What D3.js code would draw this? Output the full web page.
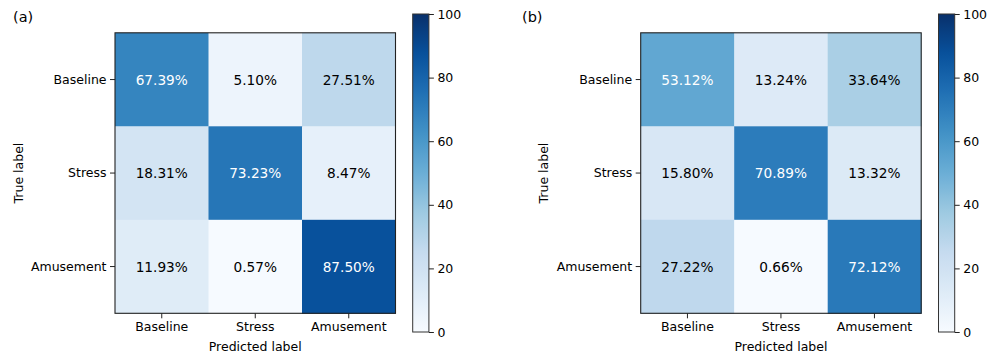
<!DOCTYPE html>
<html>
<head>
<meta charset="utf-8">
<script src="https://cdn.jsdelivr.net/npm/d3@7"></script>
<style>
  html, body { margin: 0; padding: 0; background: #fff; }
  svg { display: block; }
  text { font-family: "DejaVu Sans", sans-serif; }
</style>
</head>
<body>
<svg id="chart" width="988" height="354"></svg>
<script>
// Class names shared by both confusion matrices
const classes = ["Baseline", "Stress", "Amusement"];

// Row-normalised confusion matrices (%), rows = true label, cols = predicted
const matrixA = [
  [67.39, 5.10, 27.51],
  [18.31, 73.23, 8.47],
  [11.93, 0.57, 87.50]
];
const matrixB = [
  [53.12, 13.24, 33.64],
  [15.80, 70.89, 13.32],
  [27.22, 0.66, 72.12]
];

const panelLabels = ["(a)", "(b)"];
const colorbarTicks = [0, 20, 40, 60, 80, 100];

// ColorBrewer "Blues" stops, linearly interpolated in RGB
const bluesStops = ["#f7fbff", "#deebf7", "#c6dbef", "#9ecae1", "#6baed6",
                    "#4292c6", "#2171b5", "#08519c", "#08306b"];
const color = d3.scaleLinear()
  .domain(bluesStops.map((_, i) => 100 * i / (bluesStops.length - 1)))
  .range(bluesStops)
  .interpolate(d3.interpolateRgb)
  .clamp(true);

const svg = d3.select("#chart");

const panels = [
  { data: matrixA, label: panelLabels[0], left: 115, labelX: 13, ylabX: 18.5, cbX: 412.7 },
  { data: matrixB, label: panelLabels[1], left: 640.7, labelX: 522, ylabX: 543.5, cbX: 938.5 }
];

const gridTop = 32.8, gridSize = 280.5;
const cbTop = 14, cbBottom = 332, cbW = 16.2;

// Gradient for colorbars
const defs = svg.append("defs");
const grad = defs.append("linearGradient")
  .attr("id", "bluesGrad")
  .attr("x1", 0).attr("y1", 1).attr("x2", 0).attr("y2", 0);
d3.range(0, 101, 2).forEach(v => {
  grad.append("stop").attr("offset", (v / 100)).attr("stop-color", color(v));
});

panels.forEach(p => {
  const g = svg.append("g");

  const x = d3.scaleBand().domain(classes).range([p.left, p.left + gridSize]);
  const y = d3.scaleBand().domain(classes).range([gridTop, gridTop + gridSize]);

  // cells
  const cells = [];
  p.data.forEach((row, i) => row.forEach((v, j) => cells.push({ r: classes[i], c: classes[j], v })));

  g.selectAll("rect.cell").data(cells).enter().append("rect")
    .attr("class", "cell")
    .attr("x", d => x(d.c))
    .attr("y", d => y(d.r))
    .attr("width", x.bandwidth() + 0.5)
    .attr("height", y.bandwidth() + 0.5)
    .attr("fill", d => color(d.v));

  g.selectAll("text.val").data(cells).enter().append("text")
    .attr("class", "val")
    .attr("x", d => x(d.c) + x.bandwidth() / 2)
    .attr("y", d => y(d.r) + y.bandwidth() / 2)
    .attr("text-anchor", "middle")
    .attr("dominant-baseline", "central")
    .attr("font-size", 13.7)
    .attr("fill", d => d.v > 50 ? "#ffffff" : "#000000")
    .text(d => d.v.toFixed(2) + "%");

  // frame
  g.append("rect")
    .attr("x", p.left).attr("y", gridTop)
    .attr("width", gridSize).attr("height", gridSize)
    .attr("fill", "none").attr("stroke", "#222").attr("stroke-width", 1.1);

  // axes
  const xAxis = g.append("g")
    .attr("transform", `translate(0,${gridTop + gridSize})`)
    .call(d3.axisBottom(x).tickSize(5).tickPadding(4));
  const yAxis = g.append("g")
    .attr("transform", `translate(${p.left},0)`)
    .call(d3.axisLeft(y).tickSize(5).tickPadding(3.5));
  [xAxis, yAxis].forEach(a => {
    a.select(".domain").remove();
    a.selectAll("line").attr("stroke", "#222");
    a.selectAll("text").attr("font-size", 12.5).attr("fill", "#000")
      .style("font-family", "DejaVu Sans, sans-serif");
  });

  // axis titles
  g.append("text")
    .attr("x", p.left + gridSize / 2).attr("y", 346)
    .attr("text-anchor", "middle").attr("dominant-baseline", "central")
    .attr("font-size", 12.5).text("Predicted label");
  g.append("text")
    .attr("transform", `translate(${p.ylabX},${gridTop + gridSize / 2}) rotate(-90)`)
    .attr("text-anchor", "middle").attr("dominant-baseline", "central")
    .attr("font-size", 12.5).text("True label");

  // panel tag
  g.append("text")
    .attr("x", p.labelX).attr("y", 17)
    .attr("dominant-baseline", "central")
    .attr("font-size", 14.5).text(p.label);

  // colorbar
  const cb = d3.scaleLinear().domain([0, 100]).range([cbBottom, cbTop]);
  g.append("rect")
    .attr("x", p.cbX).attr("y", cbTop)
    .attr("width", cbW).attr("height", cbBottom - cbTop)
    .attr("fill", "url(#bluesGrad)")
    .attr("stroke", "#333").attr("stroke-width", 1);
  const cbAxis = g.append("g")
    .attr("transform", `translate(${p.cbX + cbW},0)`)
    .call(d3.axisRight(cb).tickValues(colorbarTicks).tickSize(5).tickPadding(3.5));
  cbAxis.select(".domain").remove();
  cbAxis.selectAll("line").attr("stroke", "#222");
  cbAxis.selectAll("text").attr("font-size", 12.5).attr("fill", "#000")
    .style("font-family", "DejaVu Sans, sans-serif");
});
</script>
</body>
</html>
